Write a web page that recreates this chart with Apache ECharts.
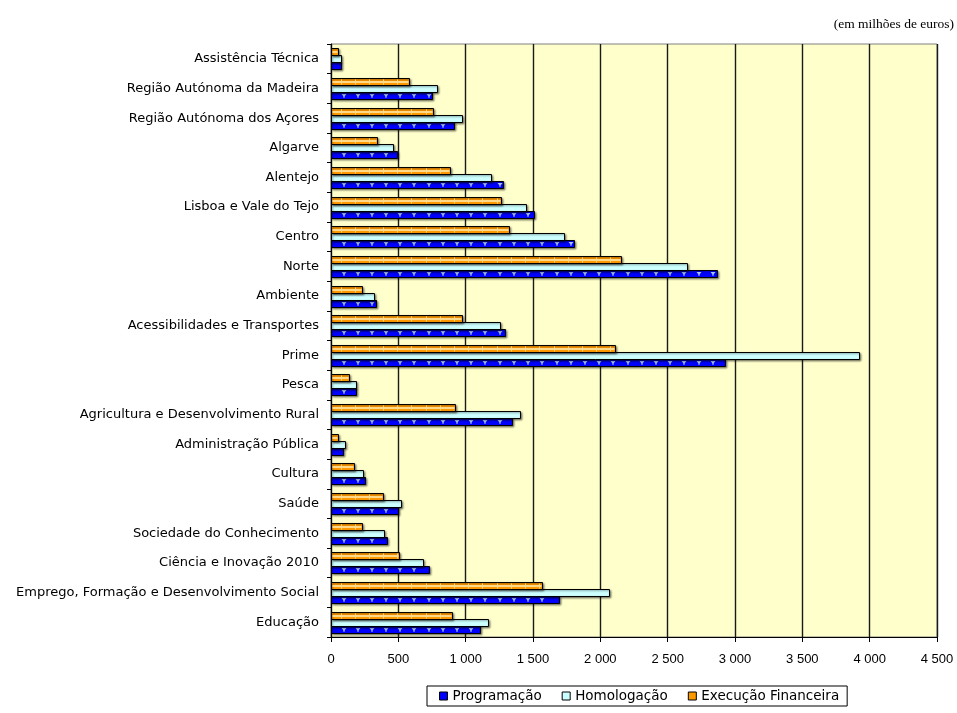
<!DOCTYPE html>
<html>
<head>
<meta charset="utf-8">
<script src="https://cdn.jsdelivr.net/npm/echarts@6/dist/echarts.min.js"></script>
<style>
  html, body { margin: 0; padding: 0; background: #ffffff; }
  #chart { width: 957px; height: 713px; }
</style>
</head>
<body>
<div id="chart"></div>
<script>
// Programmes, listed bottom to top on the vertical axis
const categories = [
  'Educação',
  'Emprego, Formação e Desenvolvimento Social',
  'Ciência e Inovação 2010',
  'Sociedade do Conhecimento',
  'Saúde',
  'Cultura',
  'Administração Pública',
  'Agricultura e Desenvolvimento Rural',
  'Pesca',
  'Prime',
  'Acessibilidades e Transportes',
  'Ambiente',
  'Norte',
  'Centro',
  'Lisboa e Vale do Tejo',
  'Alentejo',
  'Algarve',
  'Região Autónoma dos Açores',
  'Região Autónoma da Madeira',
  'Assistência Técnica'
];

// Amounts in millions of euros, same order as categories
const programacao = [1109, 1696, 725, 416, 500, 250, 87, 1346, 188, 2926, 1294, 334, 2864, 1802, 1510, 1275, 488, 913, 748, 74];
const homologacao = [1168, 2067, 686, 396, 517, 240, 106, 1406, 188, 3918, 1255, 322, 2646, 1728, 1448, 1190, 458, 975, 785, 74];
const execucao    = [901, 1569, 507, 230, 384, 168, 54, 921, 136, 2111, 975, 228, 2151, 1324, 1262, 881, 344, 760, 582, 54];

const seriesNames = ['Programação', 'Homologação', 'Execução Financeira'];
const xTicks = [0, 500, 1000, 1500, 2000, 2500, 3000, 3500, 4000, 4500];

const COLORS = { prog: '#0000FF', homo: '#CCFFFF', exec: '#FF9900' };

function fmtThousands(v) {
  return String(v).replace(/\B(?=(\d{3})+(?!\d))/g, ' ');
}

// Bars are drawn with a custom series so each one can carry its own texture.
// slot 0 = top bar of the group, 2 = bottom bar.
function makeRender(slot, kind) {
  return function (params, api) {
    const idx = api.value(1);
    const val = api.value(0);
    const p0 = api.coord([0, idx]);
    const p1 = api.coord([val, idx]);
    const band = api.size([0, 1])[1];
    const h = Math.round(band * 0.24);
    const yTop = Math.round(p0[1] - 1.5 * h + slot * h) + 0.5;
    const x0 = Math.round(p0[0]) + 0.5;
    const x1 = Math.round(p1[0]) + 0.5;
    const w = x1 - x0;
    const children = [{
      type: 'rect',
      shape: { x: x0, y: yTop, width: w, height: h },
      style: {
        fill: COLORS[kind],
        stroke: '#000000',
        lineWidth: 1,
        shadowBlur: 2,
        shadowOffsetX: 1,
        shadowOffsetY: 1,
        shadowColor: 'rgba(0,0,0,0.45)'
      }
    }];
    if (kind === 'exec') {
      children.push({
        type: 'rect',
        shape: { x: x0 + 1, y: yTop + h / 2 - 1, width: Math.max(0, w - 2), height: 2 },
        style: { fill: '#FFD98A' }
      });
      for (let x = x0 + 9; x < x1 - 2; x += 14.2) {
        children.push({
          type: 'rect',
          shape: { x: Math.round(x), y: yTop + 1, width: 1, height: h - 2 },
          style: { fill: '#FFD98A' }
        });
      }
    } else if (kind === 'prog') {
      const cy = yTop + h / 2;
      for (let x = x0 + 12; x < x1 - 3; x += 14.2) {
        const cx = Math.round(x);
        children.push({
          type: 'polygon',
          shape: { points: [[cx - 2.5, cy - 2], [cx + 2.5, cy - 2], [cx, cy + 1]] },
          style: { fill: '#A8C4FF' }
        });
        children.push({
          type: 'rect',
          shape: { x: cx - 0.5, y: cy, width: 1, height: 2 },
          style: { fill: '#A8C4FF' }
        });
      }
    }
    return { type: 'group', children: children };
  };
}

function toData(values) {
  return values.map(function (v, i) { return [v, i]; });
}

const chart = echarts.init(document.getElementById('chart'), null, { renderer: 'canvas' });

const labelFont = 'DejaVu Sans, Verdana, sans-serif';

chart.setOption({
  animation: false,
  textStyle: { fontFamily: labelFont },
  title: {
    text: '(em milhões de euros)',
    right: -2,
    top: 12,
    textStyle: { fontFamily: 'Liberation Serif, Times New Roman, serif', fontSize: 13.5, fontWeight: 'normal', color: '#000' }
  },
  grid: {
    left: 331, right: 20, top: 44, bottom: 76,
    show: true,
    backgroundColor: '#FFFFCC',
    borderColor: '#808080',
    borderWidth: 1,
    containLabel: false
  },
  legend: {
    left: 427,
    top: 686,
    orient: 'horizontal',
    backgroundColor: '#ffffff',
    borderColor: '#000000',
    borderWidth: 1,
    borderRadius: 0,
    padding: [3, 8, 3, 12],
    itemWidth: 8,
    itemHeight: 8,
    itemGap: 20,
    icon: 'rect',
    textStyle: { fontSize: 13.5, color: '#000', fontFamily: labelFont },
    data: [
      { name: seriesNames[0], itemStyle: { color: COLORS.prog, borderColor: '#000', borderWidth: 1 } },
      { name: seriesNames[1], itemStyle: { color: COLORS.homo, borderColor: '#000', borderWidth: 1 } },
      { name: seriesNames[2], itemStyle: { color: COLORS.exec, borderColor: '#000', borderWidth: 1 } }
    ]
  },
  xAxis: {
    type: 'value',
    min: xTicks[0],
    max: xTicks[xTicks.length - 1],
    interval: 500,
    axisLine: { show: true, onZero: false, lineStyle: { color: '#000', width: 1 } },
    axisTick: { show: true, length: 5, lineStyle: { color: '#000' } },
    splitLine: { show: true, lineStyle: { color: '#1a1a1a', width: 1.4 } },
    axisLabel: {
      color: '#000', fontSize: 13, margin: 16, fontFamily: 'Liberation Sans, Arial, sans-serif',
      formatter: function (v) { return fmtThousands(v); }
    }
  },
  yAxis: {
    type: 'category',
    data: categories,
    axisLine: { show: true, lineStyle: { color: '#000', width: 1 } },
    axisTick: { show: true, length: 4, lineStyle: { color: '#000' } },
    axisLabel: { color: '#000', fontSize: 13, margin: 12, fontFamily: labelFont },
    splitLine: { show: false }
  },
  series: [
    {
      name: seriesNames[0], type: 'custom', renderItem: makeRender(2, 'prog'),
      itemStyle: { color: COLORS.prog }, encode: { x: 0, y: 1 }, data: toData(programacao), z: 3
    },
    {
      name: seriesNames[1], type: 'custom', renderItem: makeRender(1, 'homo'),
      itemStyle: { color: COLORS.homo }, encode: { x: 0, y: 1 }, data: toData(homologacao), z: 3
    },
    {
      name: seriesNames[2], type: 'custom', renderItem: makeRender(0, 'exec'),
      itemStyle: { color: COLORS.exec }, encode: { x: 0, y: 1 }, data: toData(execucao), z: 3
    }
  ]
});
</script>
</body>
</html>
